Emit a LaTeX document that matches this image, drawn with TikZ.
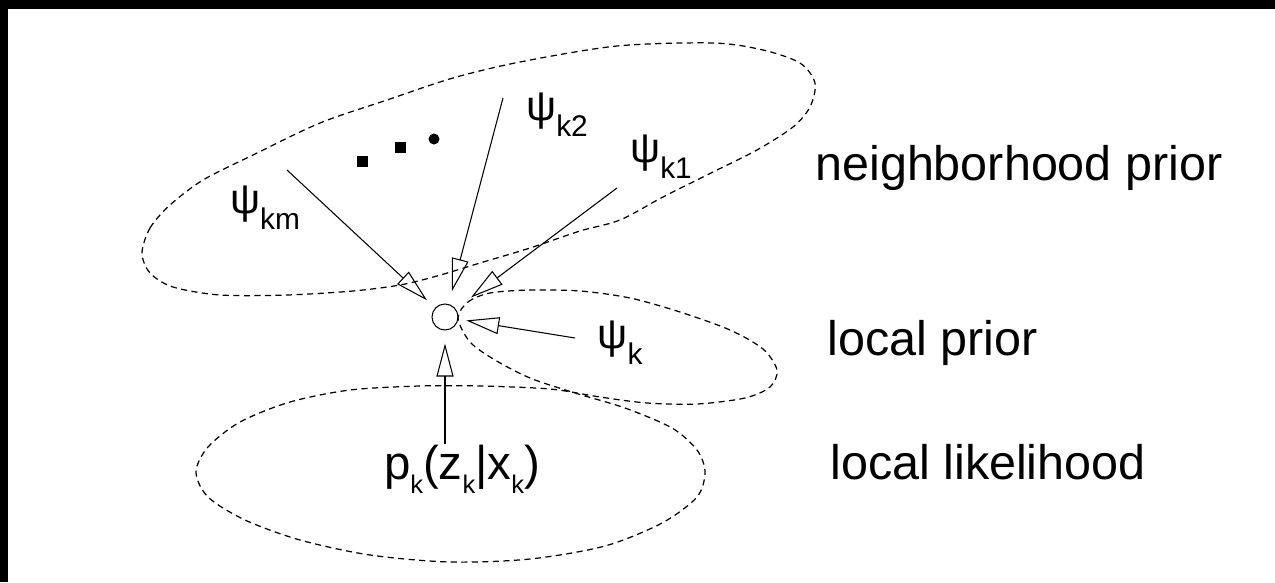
\documentclass[tikz,border=0pt]{standalone}
\usepackage{fontspec}
\setmainfont{Liberation Sans}
\usetikzlibrary{arrows.meta}
\newcommand{\psilab}[1]{\fontsize{24}{24}\selectfont ψ\raisebox{-9pt}{\fontsize{17}{17}\selectfont #1}}
\newcommand{\lowsub}[1]{\raisebox{-8pt}{\fontsize{14.5}{14.5}\selectfont #1}}

\begin{document}
\begin{tikzpicture}[x=0.02cm, y=-0.02cm,
        lbl/.style={font=\fontsize{27.6}{30}\selectfont, anchor=base west, inner sep=0pt},
        psi/.style={inner sep=0pt},
        arr/.style={-{Triangle[open, length=6.6mm, width=3.4mm]}, line width=0.6pt},
        zone/.style={line width=0.7pt, dash pattern=on 3.5pt off 2.5pt}
      ]
      \useasboundingbox (0,0) rectangle (1275,582);
      \fill[black] (0,0) rectangle (1275,582);
      \fill[white] (8,9) rectangle (1275,582);

      \draw[zone] plot[smooth cycle] coordinates {(142,253) (150,228) (170,205) (203,180)
        (253,155) (320,123) (387,100) (453,78) (520,62) (617,46) (713,43) (763,50)
        (800,63) (815,83) (810,107) (793,127) (757,150) (713,172) (663,197) (620,220)
        (580,231) (530,248) (480,263) (437,276) (400,285) (353,291) (287,295) (220,295)
        (173,287) (150,273)};
      \draw[zone] plot[smooth cycle] coordinates {(458,318) (468,302) (490,293) (530,290)
        (580,291) (630,298) (680,312) (730,330) (763,349) (777,370) (770,387) (745,398)
        (697,404) (647,403) (600,397) (550,389) (480,386) (420,386) (350,390) (290,402)
        (240,422) (208,447) (196,472) (208,497) (245,520) (300,540) (370,555) (450,562)
        (530,559) (605,546) (662,523) (697,497) (705,472) (697,450) (672,428) (625,408)
        (575,393) (530,378) (495,360) (470,342)};

      \fill (357,156) rectangle (368,167);
      \fill (395,142) rectangle (406,153);
      \fill (434,139) circle (0.11cm);

      \node[circle, draw, line width=0.6pt, minimum size=0.52cm, inner sep=0pt] (x) at (445,317) {};

      \node[psi] (km) at (265,208) {\psilab{km}};
      \node[psi] (k2) at (557,115) {\psilab{k2}};
      \node[psi] (k1) at (661,157) {\psilab{k1}};
      \node[psi] (k)  at (620,343) {\psilab{k}};
      \node[inner sep=0pt] (lik) at (462,469)
        {\fontsize{27}{27}\selectfont p\lowsub{k}(z\lowsub{k}|x\lowsub{k})};

      \coordinate (km-tail) at (287,170);
      \coordinate (k2-tail) at (503,98);
      \coordinate (k1-tail) at (617,188);
      \coordinate (k-tail)  at (575,338);

      \draw[arr, shorten >=0.22cm] (km-tail) -- (x);
      \draw[arr, shorten >=0.26cm] (k2-tail) -- (x);
      \draw[arr, shorten >=0.38cm] (k1-tail) -- (x);
      \draw[arr, shorten >=0.16cm] (k-tail) -- (x);
      \draw[arr, shorten >=0.26cm] (lik.north -| x) -- (x);

      \node[lbl] (nb) at (815,180) {neighborhood prior};
      \node[lbl] (lp) at (827,355) {local prior};
      \node[lbl] (ll) at (830,479) {local likelihood};
    \end{tikzpicture}
\end{document}
